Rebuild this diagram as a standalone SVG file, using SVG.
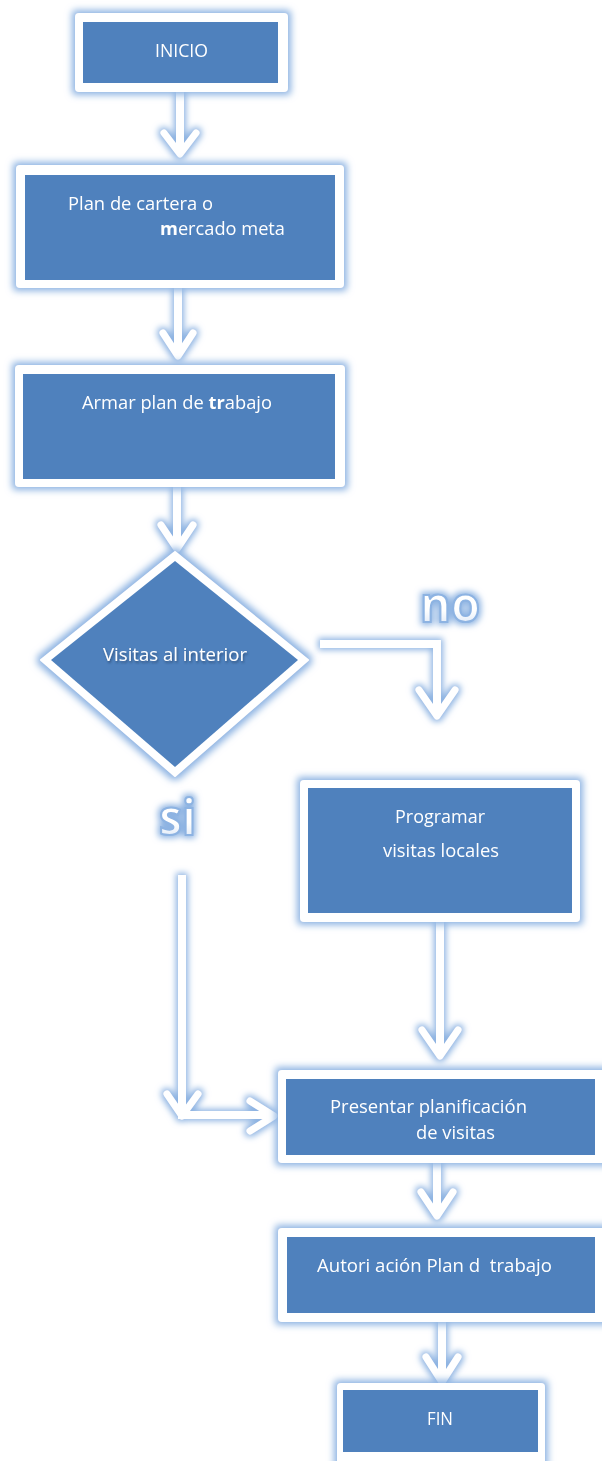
<svg xmlns="http://www.w3.org/2000/svg" width="602" height="1461" viewBox="0 0 602 1461">
<defs>
<filter id="glow" x="-20%" y="-20%" width="140%" height="140%">
<feMorphology in="SourceAlpha" operator="dilate" radius="3" result="d"/>
<feGaussianBlur in="d" stdDeviation="3.5" result="b"/>
<feFlood flood-color="#8db3e2" flood-opacity="1"/>
<feComposite in2="b" operator="in" result="g"/>
<feMerge><feMergeNode in="g"/><feMergeNode in="SourceGraphic"/></feMerge>
</filter>
<filter id="glowc" x="-50%" y="-20%" width="200%" height="140%">
<feMorphology in="SourceAlpha" operator="dilate" radius="2" result="d"/>
<feGaussianBlur in="d" stdDeviation="3" result="b"/>
<feFlood flood-color="#8db3e2" flood-opacity="1"/>
<feComposite in2="b" operator="in" result="g"/>
<feMerge><feMergeNode in="g"/><feMergeNode in="SourceGraphic"/></feMerge>
</filter>
<filter id="shadow" x="-10%" y="-30%" width="120%" height="160%">
<feGaussianBlur in="SourceAlpha" stdDeviation="1.2" result="b"/>
<feOffset dx="1" dy="1.5" in="b" result="o"/>
<feFlood flood-color="#1f3a5f" flood-opacity="0.6"/>
<feComposite in2="o" operator="in" result="s"/>
<feMerge><feMergeNode in="s"/><feMergeNode in="SourceGraphic"/></feMerge>
</filter>
<linearGradient id="wa" x1="0" y1="0" x2="0" y2="1">
<stop offset="0" stop-color="#ffffff"/>
<stop offset="0.6" stop-color="#ffffff"/>
<stop offset="1" stop-color="#c6d9f1"/>
</linearGradient>
</defs>
<style>
.outer{fill:#ffffff;}
.inner{fill:#4f81bd;}
.t{font-family:"Open Sans","Liberation Sans",sans-serif;font-size:18px;fill:#ffffff;}
.big{font-family:"Open Sans","Liberation Sans",sans-serif;font-size:50px;font-weight:bold;fill:url(#wa);stroke:#8db3e2;stroke-width:2.2px;}
.c{fill:none;stroke:#ffffff;stroke-width:8;stroke-linejoin:miter;}
.h{fill:none;stroke:#ffffff;stroke-width:7;stroke-linecap:round;stroke-linejoin:round;}
</style>
<rect width="602" height="1461" fill="#ffffff"/>

<g id="connectors" filter="url(#glowc)">
<line class="c" x1="180" y1="92" x2="180" y2="150"/>
<polyline class="h" points="164,133 180,154 196,133"/>
<line class="c" x1="178" y1="288" x2="178" y2="352"/>
<polyline class="h" points="163,333 178,356 193,333"/>
<line class="c" x1="177" y1="487" x2="177" y2="545"/>
<polyline class="h" points="161,525 177,549 193,525"/>
<polyline class="c" points="320,644 437,644 437,712"/>
<polyline class="h" points="419,690 437,716 455,690"/>
<polyline class="c" points="182,875 182,1115 270,1115"/>
<polyline class="h" points="167,1094 182,1116 198,1094"/>
<polyline class="h" points="250,1101 274,1116 250,1131"/>
<line class="c" x1="440" y1="922" x2="440" y2="1052"/>
<polyline class="h" points="422,1030 440,1056 458,1030"/>
<line class="c" x1="437" y1="1163" x2="437" y2="1214"/>
<polyline class="h" points="421,1192 437,1216 453,1192"/>
<line class="c" x1="442" y1="1322" x2="442" y2="1380"/>
<polyline class="h" points="426,1357 442,1382 458,1357"/>
</g>

<g id="inicio" filter="url(#glow)">
<rect class="outer" x="75" y="13" width="213" height="79" rx="4"/>
<rect class="inner" x="83" y="22" width="195" height="61"/>
<text class="t" x="155" y="57" textLength="53" lengthAdjust="spacingAndGlyphs">INICIO</text>
</g>

<g id="plan" filter="url(#glow)">
<rect class="outer" x="16" y="165" width="328" height="123" rx="4"/>
<rect class="inner" x="25" y="175" width="310" height="105"/>
<text class="t" x="68" y="210" textLength="145" lengthAdjust="spacingAndGlyphs">Plan de cartera o</text>
<text class="t" x="160" y="235" textLength="125" lengthAdjust="spacingAndGlyphs"><tspan font-weight="bold">m</tspan>ercado meta</text>
</g>

<g id="armar" filter="url(#glow)">
<rect class="outer" x="15" y="365" width="330" height="122" rx="4"/>
<rect class="inner" x="23" y="374" width="312" height="105"/>
<text class="t" x="82" y="409" textLength="190" lengthAdjust="spacingAndGlyphs">Armar plan de <tspan font-weight="bold">tr</tspan>abajo</text>
</g>

<g id="decision" filter="url(#glow)">
<polygon class="outer" points="175,552 308,660 175,776 41,660" stroke="#ffffff" stroke-width="2" stroke-linejoin="round"/>
<polygon class="inner" points="175,561 298,660 175,767 51,660"/>
<text class="t" x="103" y="661" textLength="144" lengthAdjust="spacingAndGlyphs" filter="url(#shadow)">Visitas al interior</text>
</g>

<g id="label-no" filter="url(#glowc)">
<text class="big" x="420" y="622" textLength="60" lengthAdjust="spacingAndGlyphs">no</text>
</g>
<g id="label-si" filter="url(#glowc)">
<text class="big" x="159" y="835" textLength="37" lengthAdjust="spacingAndGlyphs">si</text>
</g>

<g id="programar" filter="url(#glow)">
<rect class="outer" x="300" y="780" width="280" height="142" rx="4"/>
<rect class="inner" x="308" y="788" width="264" height="125"/>
<text class="t" x="395" y="823" textLength="90" lengthAdjust="spacingAndGlyphs">Programar</text>
<text class="t" x="383" y="857" textLength="116" lengthAdjust="spacingAndGlyphs">visitas locales</text>
</g>

<g id="presentar" filter="url(#glow)">
<rect class="outer" x="278" y="1070" width="330" height="93" rx="4"/>
<rect class="inner" x="286" y="1079" width="309" height="76"/>
<text class="t" x="330" y="1113" textLength="197" lengthAdjust="spacingAndGlyphs">Presentar planificación</text>
<text class="t" x="416" y="1139" textLength="79" lengthAdjust="spacingAndGlyphs">de visitas</text>
</g>

<g id="autorizacion" filter="url(#glow)">
<rect class="outer" x="278" y="1228" width="330" height="94" rx="4"/>
<rect class="inner" x="287" y="1237" width="308" height="76"/>
<text class="t" x="317" y="1272" textLength="235" lengthAdjust="spacingAndGlyphs" xml:space="preserve">Autori ación Plan d  trabajo</text>
</g>

<g id="fin" filter="url(#glow)">
<rect class="outer" x="337" y="1383" width="208" height="84" rx="4"/>
<rect class="inner" x="343" y="1390" width="195" height="62"/>
<text class="t" x="427" y="1425" textLength="26" lengthAdjust="spacingAndGlyphs">FIN</text>
</g>
</svg>
